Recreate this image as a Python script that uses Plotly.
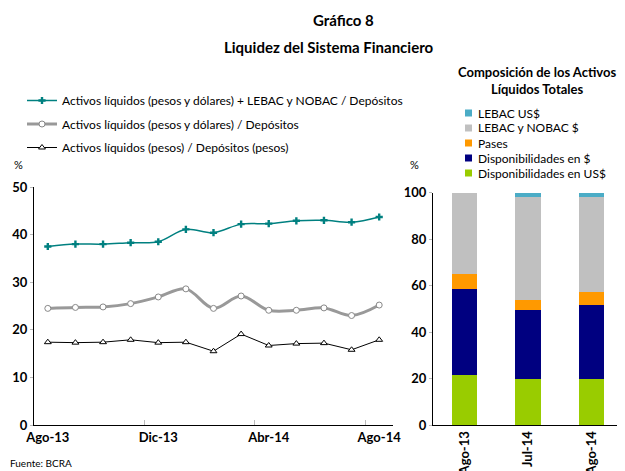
import plotly.graph_objects as go

# Left panel: monthly liquidity ratios (%)
months = ["Ago-13", "Sep-13", "Oct-13", "Nov-13", "Dic-13", "Ene-14", "Feb-14",
          "Mar-14", "Abr-14", "May-14", "Jun-14", "Jul-14", "Ago-14"]
liq_total = [37.5, 38.0, 38.0, 38.3, 38.5, 41.1, 40.4, 42.2, 42.3, 42.9, 43.0, 42.6, 43.7]
liq_pd = [24.5, 24.7, 24.8, 25.5, 26.9, 28.6, 24.5, 27.1, 24.1, 24.1, 24.6, 23.0, 25.2]
liq_pesos = [17.4, 17.3, 17.4, 17.9, 17.3, 17.4, 15.5, 19.1, 16.7, 17.1, 17.2, 15.8, 17.9]

# Right panel: composition of total liquid assets (%)
periods = ["Ago-13", "Jul-14", "Ago-14"]
disp_usd = [21.5, 19.8, 19.7]
disp_ars = [36.9, 29.6, 31.8]
pases = [6.6, 4.5, 5.9]
lebac_ars = [35.0, 44.4, 40.9]
lebac_usd = [0.0, 1.7, 1.7]

FONT = "Lato"
# page body has an 8px margin, so the figure is sized to fill the rest of the window
OFF = 8
W, H = 625 - OFF, 471 - OFF


def px(x):
    return (x - OFF) / W


def py(y):
    return 1 - (y - OFF) / H


fig = go.Figure()

fig.add_trace(go.Scatter(
    x=months, y=liq_total, mode="lines+markers", line_shape="spline",
    name="Activos líquidos (pesos y dólares) + LEBAC y NOBAC / Depósitos",
    line=dict(color="#008080", width=1.5),
    marker=dict(symbol="cross", size=6, color="#008080"),
    legendgroup="a", xaxis="x", yaxis="y"))
fig.add_trace(go.Scatter(
    x=months, y=liq_pd, mode="lines+markers", line_shape="spline",
    name="Activos líquidos (pesos y dólares) / Depósitos",
    line=dict(color="#999999", width=3),
    marker=dict(symbol="circle", size=6, color="white", line=dict(color="#888888", width=1)),
    legendgroup="b", xaxis="x", yaxis="y"))
fig.add_trace(go.Scatter(
    x=months, y=liq_pesos, mode="lines+markers",
    name="Activos líquidos (pesos) / Depósitos (pesos)",
    line=dict(color="black", width=1),
    marker=dict(symbol="triangle-up", size=6, color="white", line=dict(color="black", width=1)),
    legendgroup="c", xaxis="x", yaxis="y"))

bars = [
    ("Disponibilidades en US$", disp_usd, "#99CC00"),
    ("Disponibilidades en $", disp_ars, "#000080"),
    ("Pases", pases, "#FF9900"),
    ("LEBAC y NOBAC $", lebac_ars, "#C0C0C0"),
    ("LEBAC US$", lebac_usd, "#4BACC6"),
]
for name, vals, col in bars:
    fig.add_trace(go.Bar(
        x=periods, y=vals, name=name, marker=dict(color=col, line=dict(width=0)),
        width=0.4, xaxis="x2", yaxis="y2", showlegend=False))

# bar legend drawn by hand (tighter line spacing than plotly legends allow)
for i, (name, vals, col) in enumerate(reversed(bars)):
    yc = 113 + 15 * i
    fig.add_shape(type="rect", xref="paper", yref="paper",
                  x0=px(465), x1=px(472), y0=py(yc + 3.5), y1=py(yc - 3.5),
                  fillcolor=col, line=dict(width=0))
    fig.add_annotation(xref="paper", yref="paper", x=px(476), y=py(yc), text=name,
                       showarrow=False, xanchor="left", yanchor="middle",
                       font=dict(family=FONT, size=12, color="black"))

tickfont = dict(family=FONT, size=13, color="black", weight="bold")

fig.update_layout(
    width=W, height=H,
    margin=dict(l=0, r=0, t=0, b=0, autoexpand=False),
    paper_bgcolor="white", plot_bgcolor="white",
    font=dict(family=FONT, size=12, color="black"),
    barmode="stack",
    showlegend=True,
    xaxis=dict(domain=[px(34), px(393)], type="category", range=[-0.5, 12.5],
               tickmode="array", tickvals=["Ago-13", "Dic-13", "Abr-14", "Ago-14"],
               tickson="boundaries", ticks="inside", ticklen=5, tickcolor="#BBBBBB",
               tickangle=0, automargin=False,
               showline=True, linecolor="black", linewidth=1, showgrid=False,
               tickfont=tickfont, anchor="y"),
    yaxis=dict(domain=[py(425), py(187)], range=[0, 50], dtick=10,
               ticks="outside", ticklen=3, tickcolor="#BBBBBB", automargin=False,
               showline=True, linecolor="black", linewidth=1, showgrid=False,
               zeroline=False, tickfont=tickfont, anchor="x"),
    xaxis2=dict(domain=[px(433), px(623)], type="category", range=[-0.5, 2.5],
                showline=True, linecolor="black", linewidth=1, showgrid=False,
                tickangle=-90, automargin=False, tickfont=tickfont, anchor="y2"),
    yaxis2=dict(domain=[py(425), py(192.7)], range=[0, 100], dtick=20,
                ticks="outside", ticklen=3, tickcolor="#BBBBBB", automargin=False,
                showline=True, linecolor="black", linewidth=1, showgrid=False,
                zeroline=False, tickfont=tickfont, anchor="x2"),
    legend=dict(x=px(22), y=py(86), xanchor="left", yanchor="top",
                traceorder="grouped", tracegroupgap=4.5, bgcolor="rgba(0,0,0,0)",
                font=dict(family=FONT, size=12)),
)

annotations = [
    dict(text="<b>Gráfico 8</b>", x=343, y=20, size=15),
    dict(text="<b>Liquidez del Sistema Financiero</b>", x=329, y=47, size=15),
    dict(text="<b>Composición de los Activos<br>Líquidos Totales</b>", x=537, y=80, size=13),
    dict(text="%", x=18, y=164, size=11),
    dict(text="%", x=414, y=164, size=11),
]
for a in annotations:
    fig.add_annotation(xref="paper", yref="paper", x=px(a["x"]), y=py(a["y"]), text=a["text"],
                       showarrow=False, xanchor="center", yanchor="middle",
                       font=dict(family=FONT, size=a["size"], color="black"))
fig.add_annotation(xref="paper", yref="paper", x=0, y=py(463), text="Fuente: BCRA",
                   showarrow=False, xanchor="left", yanchor="middle",
                   font=dict(family=FONT, size=10, color="black"))

fig.write_html("out.html")
